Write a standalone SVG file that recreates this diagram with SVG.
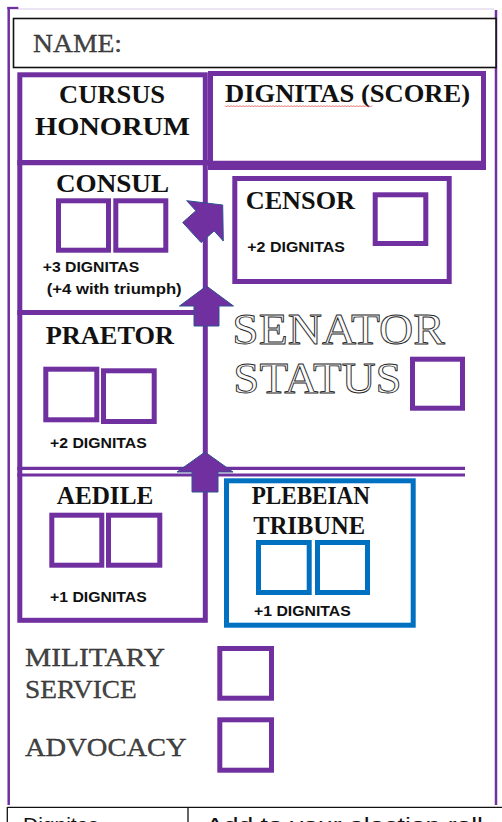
<svg xmlns="http://www.w3.org/2000/svg" width="502" height="822" viewBox="0 0 502 822">
<style>
.pf{fill:none;stroke:#7030A0;stroke-width:5}
.sq{fill:none;stroke:#7030A0;stroke-width:5}
.sqb{fill:none;stroke:#0070C0;stroke-width:5}
.t{font-family:"Liberation Serif",serif;font-weight:bold;font-size:25px;fill:#111}
.e{font-family:"Liberation Serif",serif;font-size:25px;fill:#444;stroke:#222;stroke-width:0.3}
.big{font-family:"Liberation Serif",serif;font-size:44px;fill:#fafafa;stroke:#2a2a2a;stroke-width:0.9}
.s{font-family:"Liberation Sans",Arial,sans-serif;font-weight:bold;font-size:15px;fill:#111}
.b{font-family:"Liberation Sans",Arial,sans-serif;font-size:21px;fill:#111}
.arr{fill:#7030A0;stroke:#2F528F;stroke-width:1}
</style>
<rect width="502" height="822" fill="#fff"/>
<g id="page-frame">
<line x1="18" y1="9" x2="494" y2="9" stroke="#e4dcef" stroke-width="1.5"/>
<line x1="7.3" y1="8" x2="18.3" y2="8" stroke="#7030A0" stroke-width="2.3"/>
<line x1="8.7" y1="7" x2="8.7" y2="805" stroke="#7030A0" stroke-width="2.5"/>
<line x1="496" y1="10" x2="496" y2="805" stroke="#7030A0" stroke-width="2.5"/>
</g>
<g id="name">
<rect x="13.5" y="18.5" width="482.5" height="49" fill="#fff" stroke="#111" stroke-width="1.6"/>
<text class="e" x="33" y="52" font-size="24" textLength="89" lengthAdjust="spacingAndGlyphs">NAME:</text>
</g>
<g id="cursus-honorum">
<rect class="pf" x="19.8" y="74.8" width="185.5" height="545.5" stroke-width="5.3"/>
<line x1="17.3" y1="162.7" x2="208" y2="162.7" stroke="#7030A0" stroke-width="5.3"/>
<text class="t" x="59" y="103.3" textLength="106" lengthAdjust="spacingAndGlyphs">CURSUS</text>
<text class="t" x="35" y="135" textLength="155" lengthAdjust="spacingAndGlyphs">HONORUM</text>
</g>
<g id="dignitas">
<path d="M208 71H486V170H208Z M213 76V160.7H481V76Z" fill="#7030A0" fill-rule="evenodd"/>
<text class="t" x="225" y="101.7" textLength="245" lengthAdjust="spacingAndGlyphs">DIGNITAS (SCORE)</text>
<path d="M225 105.5l1.5 1.5l1.5-1.5l1.5 1.5l1.5-1.5l1.5 1.5l1.5-1.5l1.5 1.5l1.5-1.5l1.5 1.5l1.5-1.5l1.5 1.5l1.5-1.5l1.5 1.5l1.5-1.5l1.5 1.5l1.5-1.5l1.5 1.5l1.5-1.5l1.5 1.5l1.5-1.5l1.5 1.5l1.5-1.5l1.5 1.5l1.5-1.5l1.5 1.5l1.5-1.5l1.5 1.5l1.5-1.5l1.5 1.5l1.5-1.5l1.5 1.5l1.5-1.5l1.5 1.5l1.5-1.5l1.5 1.5l1.5-1.5l1.5 1.5l1.5-1.5l1.5 1.5l1.5-1.5l1.5 1.5l1.5-1.5l1.5 1.5l1.5-1.5l1.5 1.5l1.5-1.5l1.5 1.5l1.5-1.5l1.5 1.5l1.5-1.5l1.5 1.5l1.5-1.5l1.5 1.5l1.5-1.5l1.5 1.5l1.5-1.5l1.5 1.5l1.5-1.5l1.5 1.5l1.5-1.5l1.5 1.5l1.5-1.5l1.5 1.5l1.5-1.5l1.5 1.5l1.5-1.5l1.5 1.5l1.5-1.5l1.5 1.5l1.5-1.5l1.5 1.5l1.5-1.5l1.5 1.5l1.5-1.5l1.5 1.5l1.5-1.5l1.5 1.5l1.5-1.5l1.5 1.5l1.5-1.5l1.5 1.5l1.5-1.5l1.5 1.5l1.5-1.5l1.5 1.5l1.5-1.5l1.5 1.5l1.5-1.5l1.5 1.5l1.5-1.5l1.5 1.5l1.5-1.5l1.5 1.5l1.5-1.5l1.5 1.5l1.5-1.5l1.5 1.5l1.5-1.5" fill="none" stroke="#e84a4a" stroke-width="0.8"/>
</g>
<g id="consul">
<text class="t" x="56" y="191.7" textLength="113" lengthAdjust="spacingAndGlyphs">CONSUL</text>
<rect class="sq" x="58.5" y="200.8" width="50" height="49.4"/>
<rect class="sq" x="115.8" y="200.8" width="50" height="49.4"/>
<text class="s" x="42.7" y="271.7" textLength="96.6" lengthAdjust="spacingAndGlyphs">+3 DIGNITAS</text>
<text class="s" x="46.7" y="294.3" textLength="135" lengthAdjust="spacingAndGlyphs">(+4 with triumph)</text>
</g>
<g id="censor">
<rect class="pf" x="234.8" y="178.5" width="214.4" height="103"/>
<text class="t" x="245.7" y="209.3" textLength="109.3" lengthAdjust="spacingAndGlyphs">CENSOR</text>
<rect class="sq" x="375.2" y="194.8" width="50.6" height="48.7"/>
<text class="s" x="247.3" y="251.7" textLength="97.7" lengthAdjust="spacingAndGlyphs">+2 DIGNITAS</text>
</g>
<g id="praetor">
<line x1="17.3" y1="312.5" x2="207" y2="312.5" stroke="#7030A0" stroke-width="5"/>
<text class="t" x="45.7" y="344.3" textLength="128.3" lengthAdjust="spacingAndGlyphs">PRAETOR</text>
<rect class="sq" x="45.8" y="369.2" width="51" height="50.6"/>
<rect class="sq" x="103.5" y="370.8" width="50.7" height="50.7"/>
<text class="s" x="50" y="447.7" textLength="96.7" lengthAdjust="spacingAndGlyphs">+2 DIGNITAS</text>
</g>
<g id="senator-status">
<text class="big" x="232.3" y="344.3" textLength="212.7" lengthAdjust="spacingAndGlyphs">SENATOR</text>
<text class="big" x="233.3" y="393.3" textLength="168.4" lengthAdjust="spacingAndGlyphs">STATUS</text>
<rect class="sq" x="412.5" y="359.2" width="50" height="49"/>
</g>
<g id="divider">
<line x1="17.3" y1="468.3" x2="465" y2="468.3" stroke="#7030A0" stroke-width="3.2"/>
<line x1="17.3" y1="474.9" x2="465" y2="474.9" stroke="#7030A0" stroke-width="3"/>
</g>
<g id="aedile">
<text class="t" x="56.7" y="504" textLength="96.6" lengthAdjust="spacingAndGlyphs">AEDILE</text>
<rect class="sq" x="51.8" y="515.2" width="50" height="50"/>
<rect class="sq" x="108.5" y="515.2" width="51.3" height="50"/>
<text class="s" x="50" y="602.3" textLength="96.7" lengthAdjust="spacingAndGlyphs">+1 DIGNITAS</text>
</g>
<g id="plebeian-tribune">
<rect class="sqb" x="226.5" y="480.8" width="186.7" height="144.4"/>
<text class="t" x="251.7" y="504" textLength="118.3" lengthAdjust="spacingAndGlyphs">PLEBEIAN</text>
<text class="t" x="253.3" y="534" textLength="111.7" lengthAdjust="spacingAndGlyphs">TRIBUNE</text>
<rect class="sqb" x="258.5" y="542.5" width="50.7" height="50"/>
<rect class="sqb" x="317.5" y="542.5" width="50" height="50"/>
<text class="s" x="254" y="616" textLength="96.7" lengthAdjust="spacingAndGlyphs">+1 DIGNITAS</text>
</g>
<g id="military-service">
<text class="e" x="25" y="666" font-size="26" textLength="140" lengthAdjust="spacingAndGlyphs">MILITARY</text>
<text class="e" x="25" y="697.7" font-size="26" textLength="111.7" lengthAdjust="spacingAndGlyphs">SERVICE</text>
<rect class="sq" x="219.8" y="648.5" width="51.7" height="49.7"/>
</g>
<g id="advocacy">
<text class="e" x="25" y="756" font-size="26" textLength="161.7" lengthAdjust="spacingAndGlyphs">ADVOCACY</text>
<rect class="sq" x="219.8" y="719.8" width="51.7" height="50.4"/>
</g>
<g id="table">
<line x1="7.3" y1="807.3" x2="502" y2="807.3" stroke="#111" stroke-width="1.3"/>
<line x1="7.3" y1="807" x2="7.3" y2="822" stroke="#111" stroke-width="1.3"/>
<line x1="188" y1="807" x2="188" y2="822" stroke="#111" stroke-width="1.3"/>
<text class="b" x="23" y="832">Dignitas</text>
<text class="b" x="206" y="832" textLength="277" lengthAdjust="spacingAndGlyphs">Add to your election roll</text>
</g>
<g id="connectors">
<polygon class="arr" points="222.7,205 186.7,200.7 195.9,210.8 182.7,222.5 201.1,242.6 214.2,230.9 223.3,241"/>
<polygon class="arr" points="206.5,286 233.5,306 219,306 219,326 194,326 194,306 179.5,306"/>
<polygon class="arr" points="205,452 233,472 218,472 218,492 192,492 192,472 177,472"/>
</g>
</svg>
